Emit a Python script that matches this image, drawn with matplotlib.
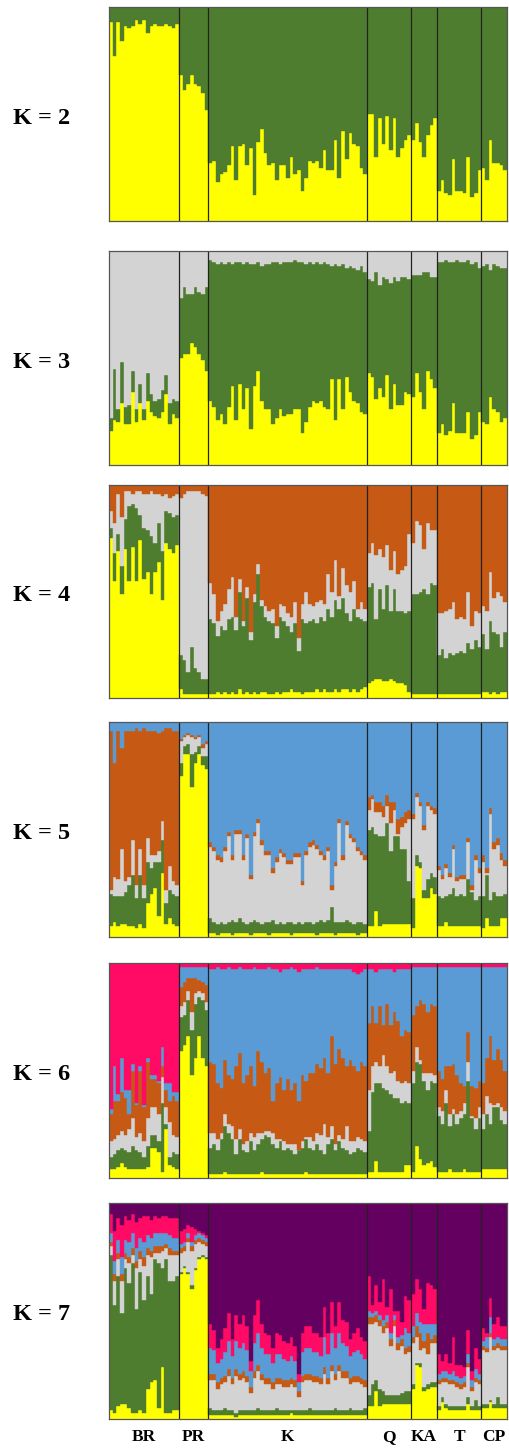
import numpy as np
import matplotlib.pyplot as plt

# populations (left to right) and number of individuals in each
pops = ['BR', 'PR', 'K', 'Q', 'KA', 'T', 'CP']
pop_sizes = [19, 8, 43, 12, 7, 12, 7]

# cluster colours, bottom layer first
cluster_colors = ['#FFFF00', '#4F7D30', '#D3D3D3', '#C65A14', '#5A9BD5', '#FF0A64', '#64005F']

# cumulative membership (%) at the top of each layer; last layer fills to 100
# order inside each list: BR | PR | K | Q | KA | T | CP
k2_yellow = [93, 77, 93, 84, 91, 90, 91, 94, 92, 94, 88, 91, 92, 91, 91, 92, 91, 90, 92,
             68, 61, 64, 68, 64, 63, 60, 52,
             27, 28, 18, 22, 23, 26, 35, 19, 35, 36, 26, 34, 12, 37, 43, 32, 26, 27, 19, 26, 26, 20,
             30, 22, 24, 14, 20, 28, 27, 28, 25, 33, 24, 24, 38, 20, 42, 29, 41, 36, 35, 25, 22,
             50, 50, 30, 48, 36, 49, 33, 48, 30, 34, 38, 40,
             38, 46, 37, 30, 40, 45, 48,
             14, 19, 13, 12, 29, 14, 14, 13, 30, 11, 13, 24,
             25, 19, 38, 27, 27, 26, 24]

k3_yellow = [16, 21, 20, 29, 19, 19, 34, 20, 29, 21, 30, 25, 23, 22, 25, 33, 19, 24, 22,
             50, 52, 52, 57, 55, 52, 49, 44,
             30, 27, 21, 24, 19, 27, 37, 21, 38, 26, 36, 17, 37, 44, 30, 26, 26, 19, 22, 26, 23, 24,
             24, 26, 26, 15, 20, 27, 30, 29, 30, 27, 26, 40, 21, 40, 26, 41, 34, 30, 29, 25, 24,
             43, 41, 31, 36, 32, 42, 26, 38, 28, 28, 34, 33,
             32, 43, 34, 26, 44, 40, 36,
             15, 19, 14, 16, 29, 15, 15, 15, 25, 12, 14, 25,
             20, 19, 32, 26, 25, 20, 22]
k3_green = [22, 45, 26, 48, 27, 28, 44, 26, 38, 26, 43, 33, 30, 31, 35, 42, 29, 31, 30,
            78, 83, 80, 80, 83, 81, 80, 83,
            96, 95, 94, 95, 94, 95, 94, 95, 95, 94, 95, 94, 94, 95, 93, 94, 94, 95, 95, 94, 95, 95,
            95, 96, 95, 95, 94, 95, 94, 95, 94, 95, 94, 93, 94, 93, 94, 92, 93, 92, 91, 93, 90,
            87, 86, 90, 84, 88, 87, 85, 88, 86, 88, 88, 87,
            89, 89, 89, 90, 90, 88, 88,
            95, 95, 96, 95, 95, 96, 95, 95, 96, 94, 95, 92,
            93, 94, 91, 94, 93, 92, 92]

k4_yellow = [75, 55, 69, 49, 70, 55, 71, 55, 74, 56, 59, 49, 59, 64, 46, 73, 70, 68, 72,
             4, 2, 2, 2, 2, 2, 2, 2,
             2, 2, 3, 2, 3, 2, 3, 2, 4, 2, 3, 2, 3, 2, 3, 3, 2, 2, 3, 2, 3, 3,
             4, 3, 3, 2, 3, 3, 3, 4, 3, 4, 3, 3, 4, 3, 4, 4, 3, 4, 3, 4, 5,
             7, 8, 9, 9, 8, 8, 9, 8, 7, 7, 6, 3,
             2, 2, 2, 2, 2, 2, 2,
             2, 2, 2, 2, 2, 2, 2, 2, 2, 2, 2, 2,
             3, 3, 2, 3, 2, 3, 3]
k4_green = [80, 68, 77, 62, 84, 90, 91, 89, 86, 80, 79, 76, 73, 82, 69, 88, 87, 85, 86,
            20, 18, 12, 24, 14, 12, 9, 9,
            37, 35, 29, 34, 32, 37, 38, 32, 50, 34, 47, 27, 45, 58, 43, 38, 36, 35, 28, 38, 36, 34,
            31, 35, 22, 37, 35, 36, 37, 35, 38, 36, 42, 38, 46, 42, 47, 40, 36, 42, 38, 37, 36,
            52, 54, 37, 51, 42, 53, 41, 51, 41, 41, 40, 41,
            49, 49, 50, 51, 49, 54, 53,
            20, 23, 19, 21, 20, 21, 22, 21, 26, 23, 27, 24,
            30, 23, 36, 31, 30, 24, 31]
k4_grey = [88, 82, 96, 85, 97, 97, 96, 97, 97, 96, 96, 97, 96, 96, 95, 96, 94, 95, 96,
           94, 96, 97, 97, 97, 97, 96, 95,
           54, 49, 36, 41, 44, 51, 57, 38, 56, 36, 52, 31, 49, 63, 46, 43, 41, 42, 34, 44, 43, 40,
           38, 45, 28, 44, 50, 44, 43, 45, 46, 44, 58, 50, 65, 48, 61, 53, 50, 55, 42, 45, 42,
           68, 73, 67, 70, 66, 72, 60, 69, 58, 60, 62, 77,
           73, 83, 81, 70, 82, 79, 79,
           40, 40, 41, 42, 45, 37, 38, 37, 50, 34, 41, 40,
           43, 41, 59, 47, 50, 48, 45]

k5_yellow = [5, 7, 5, 6, 6, 5, 5, 4, 6, 4, 16, 20, 23, 10, 30, 6, 9, 6, 5,
             75, 85, 85, 70, 81, 85, 80, 78,
             2, 2, 1, 2, 2, 2, 1, 2, 2, 2, 2, 1, 2, 2, 2, 2, 1, 2, 2, 2, 2, 2,
             1, 2, 2, 2, 2, 2, 2, 1, 2, 2, 2, 2, 1, 2, 2, 2, 2, 2, 1, 2, 2,
             5, 5, 12, 5, 6, 6, 6, 6, 6, 6, 6, 6,
             4, 33, 32, 18, 18, 23, 20,
             5, 5, 7, 5, 5, 5, 5, 5, 5, 5, 5, 5,
             4, 9, 5, 5, 5, 9, 9]
k5_green = [20, 19, 19, 19, 21, 24, 29, 18, 29, 18, 35, 32, 35, 35, 45, 16, 22, 20, 19,
            81, 89, 90, 85, 86, 89, 84, 84,
            9, 7, 6, 7, 6, 7, 8, 7, 9, 7, 6, 7, 8, 7, 6, 7, 7, 8, 6, 7, 6, 7,
            7, 6, 7, 6, 7, 7, 6, 7, 8, 7, 8, 14, 7, 7, 7, 8, 7, 6, 7, 7, 6,
            50, 51, 48, 47, 47, 53, 40, 47, 47, 41, 41, 26,
            18, 38, 35, 22, 27, 30, 28,
            19, 18, 19, 20, 23, 19, 20, 19, 27, 21, 17, 19,
            19, 29, 17, 21, 19, 19, 20]
k5_grey = [22, 28, 27, 41, 26, 28, 45, 24, 41, 24, 46, 38, 38, 40, 54, 22, 33, 26, 24,
           91, 93, 94, 93, 92, 93, 88, 90,
           42, 40, 36, 35, 40, 47, 36, 48, 48, 36, 46, 27, 47, 53, 43, 38, 38, 30, 35, 39, 37, 34,
           34, 37, 37, 24, 38, 42, 43, 41, 38, 36, 40, 22, 33, 53, 36, 52, 46, 44, 40, 38, 36,
           59, 64, 58, 58, 56, 61, 53, 59, 48, 51, 53, 55,
           55, 65, 61, 50, 61, 59, 57,
           31, 27, 32, 28, 41, 26, 27, 27, 44, 22, 36, 30,
           35, 30, 57, 41, 43, 36, 33]
k5_orange = [96, 81, 96, 88, 96, 96, 96, 97, 96, 97, 96, 96, 96, 95, 96, 97, 97, 96, 96,
             92, 94, 95, 94, 93, 94, 90, 91,
             44, 42, 38, 37, 42, 49, 38, 50, 50, 38, 48, 29, 49, 55, 45, 40, 40, 32, 37, 41, 39, 36,
             36, 39, 39, 26, 40, 44, 45, 43, 40, 38, 42, 24, 35, 55, 38, 54, 48, 46, 42, 40, 38,
             65, 66, 63, 63, 61, 66, 63, 63, 55, 56, 58, 59,
             57, 67, 63, 52, 63, 61, 60,
             33, 29, 34, 30, 43, 28, 29, 29, 46, 24, 38, 32,
             38, 32, 60, 44, 46, 39, 36]

k6_yellow = [4, 4, 5, 7, 5, 4, 4, 4, 4, 4, 5, 14, 14, 12, 3, 23, 6, 5, 4,
             59, 62, 66, 48, 56, 66, 56, 52,
             2, 2, 2, 2, 3, 2, 2, 2, 2, 2, 2, 2, 2, 2, 3, 2, 2, 2, 2, 2, 2, 2,
             2, 2, 2, 2, 3, 2, 2, 2, 2, 2, 2, 2, 2, 2, 2, 2, 2, 2, 2, 2, 2,
             3, 3, 8, 3, 3, 3, 3, 3, 3, 3, 6, 6,
             3, 15, 9, 6, 7, 8, 5,
             3, 3, 3, 4, 3, 3, 3, 4, 3, 3, 3, 3,
             4, 4, 4, 4, 4, 4, 4]
k6_green = [10, 11, 13, 14, 13, 12, 15, 13, 12, 10, 15, 20, 20, 17, 35, 25, 10, 12, 11,
            75, 76, 83, 69, 81, 84, 83, 78,
            14, 16, 13, 18, 24, 21, 18, 11, 18, 13, 12, 17, 13, 16, 18, 20, 19, 16, 14, 17, 13, 14,
            13, 11, 13, 14, 18, 14, 13, 16, 13, 11, 16, 18, 13, 17, 14, 13, 11, 12, 14, 13, 12,
            22, 40, 44, 44, 42, 41, 39, 37, 37, 35, 36, 35,
            44, 54, 53, 45, 41, 45, 44,
            29, 25, 35, 24, 30, 25, 28, 30, 45, 28, 23, 28,
            23, 30, 25, 33, 33, 27, 25]
k6_grey = [17, 18, 20, 22, 20, 23, 28, 19, 21, 17, 28, 33, 33, 30, 47, 33, 26, 20, 19,
           80, 82, 87, 77, 86, 87, 86, 82,
           21, 21, 18, 21, 30, 25, 24, 18, 23, 16, 17, 21, 19, 21, 21, 22, 22, 21, 18, 18, 17, 16,
           16, 16, 13, 17, 19, 19, 17, 21, 20, 25, 19, 24, 16, 20, 18, 24, 17, 17, 19, 18, 17,
           41, 52, 54, 52, 57, 52, 49, 50, 45, 44, 45, 44,
           50, 61, 55, 49, 49, 49, 48,
           33, 31, 41, 30, 32, 30, 31, 35, 54, 29, 28, 33,
           30, 38, 35, 34, 35, 33, 31]
k6_orange = [30, 36, 36, 40, 37, 30, 50, 34, 50, 33, 54, 46, 46, 44, 52, 41, 36, 38, 36,
             89, 91, 93, 93, 93, 92, 91, 90,
             54, 53, 44, 42, 55, 48, 46, 52, 58, 44, 48, 52, 43, 59, 54, 49, 51, 36, 44, 47, 41, 46,
             41, 44, 36, 48, 45, 49, 49, 53, 51, 56, 49, 66, 53, 60, 56, 52, 55, 52, 50, 54, 52,
             72, 80, 72, 80, 71, 81, 71, 77, 73, 66, 69, 68,
             76, 80, 83, 81, 77, 81, 80,
             50, 46, 52, 52, 53, 48, 44, 43, 68, 43, 42, 45,
             44, 56, 66, 55, 60, 55, 50]
k6_blue = [32, 52, 39, 56, 41, 41, 53, 35, 52, 34, 56, 48, 48, 45, 61, 44, 44, 40, 40,
           98, 98, 98, 98, 98, 98, 98, 98,
           97, 97, 98, 97, 97, 98, 97, 97, 98, 97, 97, 97, 98, 97, 97, 97, 98, 97, 97, 96, 97, 97,
           98, 97, 96, 97, 97, 97, 97, 98, 97, 97, 97, 97, 97, 97, 97, 97, 97, 96, 95, 96, 97,
           97, 97, 96, 97, 97, 97, 97, 96, 97, 97, 97, 97,
           98, 98, 98, 98, 98, 98, 98,
           98, 98, 98, 98, 98, 98, 98, 98, 98, 98, 98, 98,
           98, 98, 98, 98, 98, 98, 98]

k7_yellow = [4, 3, 6, 7, 7, 5, 3, 3, 4, 3, 14, 17, 18, 5, 24, 3, 3, 4, 4,
             67, 70, 67, 60, 69, 74, 75, 74,
             2, 2, 2, 2, 2, 2, 2, 1, 2, 2, 2, 2, 2, 2, 2, 2, 2, 2, 2, 2, 2, 2,
             3, 2, 2, 2, 2, 2, 2, 2, 2, 2, 2, 2, 2, 2, 2, 2, 2, 2, 2, 2, 2,
             6, 6, 13, 6, 7, 7, 7, 7, 7, 7, 7, 7,
             14, 25, 24, 13, 14, 15, 15,
             4, 8, 5, 4, 4, 4, 4, 4, 7, 4, 4, 4,
             5, 5, 8, 5, 5, 5, 5]
k7_green = [76, 53, 66, 49, 70, 63, 72, 51, 68, 55, 66, 58, 74, 72, 70, 74, 64, 64, 66,
            68, 71, 68, 62, 70, 75, 76, 75,
            5, 4, 4, 4, 5, 4, 4, 3, 4, 4, 4, 4, 4, 5, 4, 4, 4, 4, 5, 4, 4, 4,
            4, 4, 4, 4, 4, 5, 4, 4, 4, 4, 4, 4, 5, 4, 4, 4, 5, 4, 4, 4, 5,
            11, 16, 18, 14, 13, 11, 11, 11, 11, 12, 13, 13,
            16, 26, 26, 15, 16, 17, 17,
            6, 10, 7, 6, 6, 6, 6, 6, 10, 6, 9, 6,
            7, 7, 9, 7, 10, 7, 7]
k7_grey = [80, 64, 74, 64, 74, 72, 76, 70, 74, 71, 76, 75, 77, 77, 78, 79, 76, 76, 76,
           77, 78, 82, 78, 81, 82, 81, 80,
           18, 18, 14, 16, 17, 20, 16, 20, 18, 19, 17, 12, 19, 22, 18, 16, 16, 14, 16, 16, 15, 15,
           16, 15, 10, 17, 18, 18, 17, 17, 16, 21, 16, 22, 18, 22, 19, 19, 16, 17, 17, 16, 15,
           44, 44, 45, 43, 40, 42, 34, 43, 32, 34, 30, 31,
           35, 38, 32, 33, 30, 35, 35,
           16, 17, 17, 16, 16, 15, 14, 15, 24, 13, 17, 16,
           32, 31, 38, 32, 33, 32, 32]
k7_orange = [82, 67, 77, 67, 77, 75, 79, 73, 78, 75, 79, 78, 80, 80, 80, 81, 79, 78, 78,
             79, 80, 84, 80, 83, 84, 83, 82,
             21, 21, 17, 19, 20, 23, 19, 23, 21, 22, 20, 15, 22, 25, 21, 19, 19, 17, 19, 19, 18, 18,
             19, 18, 13, 20, 21, 21, 20, 20, 19, 24, 19, 25, 21, 25, 22, 22, 19, 20, 20, 19, 18,
             47, 47, 48, 46, 43, 45, 37, 46, 35, 37, 33, 34,
             38, 43, 40, 36, 40, 37, 39,
             18, 19, 19, 18, 18, 17, 16, 17, 26, 15, 19, 18,
             34, 33, 40, 34, 35, 34, 34]
k7_blue = [86, 73, 83, 75, 83, 82, 86, 79, 84, 82, 85, 84, 86, 86, 86, 86, 85, 84, 84,
           81, 82, 86, 82, 85, 86, 85, 84,
           33, 32, 26, 28, 31, 36, 29, 36, 33, 35, 32, 22, 35, 40, 33, 30, 30, 26, 30, 30, 28, 27,
           29, 27, 17, 31, 33, 33, 31, 31, 29, 38, 30, 40, 33, 40, 35, 34, 29, 31, 32, 30, 28,
           50, 49, 50, 48, 46, 48, 40, 48, 38, 39, 42, 40,
           43, 49, 45, 44, 44, 44, 44,
           21, 22, 22, 21, 22, 20, 19, 20, 30, 18, 23, 21,
           36, 38, 47, 37, 38, 37, 37]
k7_pink = [95, 87, 93, 90, 94, 92, 95, 91, 93, 94, 94, 92, 94, 93, 94, 94, 93, 93, 93,
           87, 88, 90, 89, 88, 87, 86, 85,
           44, 41, 33, 37, 42, 49, 37, 48, 44, 48, 43, 27, 48, 55, 44, 40, 39, 33, 40, 39, 36, 35,
           38, 34, 21, 40, 43, 43, 40, 40, 38, 52, 40, 54, 43, 54, 46, 45, 37, 40, 42, 38, 36,
           66, 53, 62, 54, 65, 52, 60, 50, 50, 45, 57, 55,
           58, 65, 60, 51, 63, 62, 60,
           30, 27, 30, 26, 38, 25, 25, 24, 41, 22, 33, 28,
           42, 40, 56, 44, 47, 43, 43]

panels = [
    (2, [k2_yellow]),
    (3, [k3_yellow, k3_green]),
    (4, [k4_yellow, k4_green, k4_grey]),
    (5, [k5_yellow, k5_green, k5_grey, k5_orange]),
    (6, [k6_yellow, k6_green, k6_grey, k6_orange, k6_blue]),
    (7, [k7_yellow, k7_green, k7_grey, k7_orange, k7_blue, k7_pink]),
]

n_ind = sum(pop_sizes)
x = np.arange(n_ind)
bounds = np.cumsum(pop_sizes)
centers = bounds - np.array(pop_sizes) / 2

fig = plt.figure(figsize=(5.1, 14.48), dpi=100)
W, H = 510, 1448
panel_px = [(7, 221), (251, 465), (485, 698), (722, 937), (963, 1178), (1203, 1419)]
serif = ['Liberation Serif', 'DejaVu Serif']

for (k, layers), (top_px, bot_px) in zip(panels, panel_px):
    ax = fig.add_axes([109 / W, 1 - bot_px / H, 398 / W, (bot_px - top_px) / H])
    tops = [np.array(l, dtype=float) for l in layers] + [np.full(n_ind, 100.0)]
    for l in tops:
        if len(l) != n_ind:
            raise ValueError(f"K={k}: layer has {len(l)} values")
    prev = np.zeros(n_ind)
    for i, top in enumerate(tops):
        c = cluster_colors[i]
        ax.bar(x, top - prev, bottom=prev, width=1.0, align='edge',
               color=c, edgecolor=c, linewidth=0.3)
        prev = top
    for b in bounds[:-1]:
        ax.axvline(b, color='#222222', linewidth=0.9)
    ax.set_xlim(0, n_ind)
    ax.set_ylim(0, 100)
    ax.set_xticks([])
    ax.set_yticks([])
    for s in ax.spines.values():
        s.set_color('#555555')
        s.set_linewidth(0.9)
    yc = 1 - ((top_px + bot_px) / 2 + 4) / H
    fig.text(42 / W, yc, f"K = {k}", ha='center', va='center',
             fontsize=17.5, fontweight='bold', family=serif)

# population names under the last panel
for name, cx in zip(pops, centers):
    ax.text(cx, -8.5, name, ha='center', va='center', fontsize=12.5,
            fontweight='bold', family=serif, clip_on=False)

fig.savefig('out.png', dpi=100)
